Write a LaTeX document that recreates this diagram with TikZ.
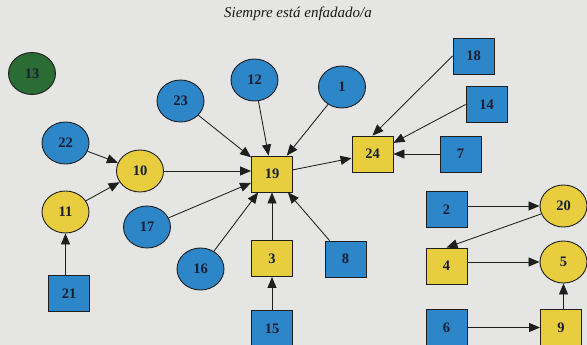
\documentclass[tikz,border=0pt]{standalone}
\usepackage{fontspec}
\setmainfont{Liberation Serif}
\usetikzlibrary{arrows.meta,shapes.geometric}
\definecolor{bg}{RGB}{229,229,227}
\definecolor{nblue}{RGB}{44,134,200}
\definecolor{nyellow}{RGB}{232,206,62}
\definecolor{ngreen}{RGB}{42,108,52}
\definecolor{edgec}{RGB}{30,30,30}
\definecolor{txtc}{RGB}{25,30,50}
\tikzset{
  base/.style={draw=edgec, line width=0.9pt, font=\fontsize{14.5}{14.5}\selectfont\bfseries, text=txtc, inner sep=0pt},
  ell/.style={base, ellipse, minimum width=47pt, minimum height=42pt},
  sq/.style={base, rectangle, minimum width=41pt, minimum height=36pt},
  bc/.style={ell, fill=nblue},
  yc/.style={ell, fill=nyellow},
  gc/.style={ell, fill=ngreen},
  bs/.style={sq, fill=nblue},
  ys/.style={sq, fill=nyellow},
  arr/.style={draw=edgec, line width=0.85pt, -{Triangle[length=11pt,width=9pt]}}
}
\begin{document}
\begin{tikzpicture}[x=1pt,y=-1pt]
\fill[bg] (0,0) rectangle (587,345);
\useasboundingbox (0,0) rectangle (587,345);
\clip (0,0) rectangle (587,345);
\node[font=\fontsize{15}{15}\selectfont\itshape, text=black!90] (title) at (298,14) {Siempre está enfadado/a};

\node[gc] (n13) at (32,73.5) {13};
\node[bc] (n23) at (180.5,101) {23};
\node[bc] (n12) at (254.5,80) {12};
\node[bc] (n1) at (342,87) {1};
\node[bs] (n18) at (473.5,56) {18};
\node[bs] (n14) at (486.5,104.5) {14};
\node[ys] (n24) at (372.5,154) {24};
\node[bs] (n7) at (460.5,154) {7};
\node[bc] (n22) at (65.5,143) {22};
\node[yc] (n10) at (140,171) {10};
\node[ys] (n19) at (272,174) {19};
\node[yc] (n11) at (65.5,212) {11};
\node[bc] (n17) at (147,227) {17};
\node[bc] (n16) at (200.5,269) {16};
\node[ys] (n3) at (272,258.5) {3};
\node[bs] (n8) at (345.5,259) {8};
\node[bs] (n21) at (69,293.5) {21};
\node[bs] (n15) at (272,328.5) {15};
\node[bs] (n2) at (446.5,209.5) {2};
\node[yc] (n20) at (563.5,206) {20};
\node[ys] (n4) at (446.5,266) {4};
\node[yc] (n5) at (563.5,262) {5};
\node[bs] (n6) at (446.5,327.5) {6};
\node[ys] (n9) at (561,327.5) {9};

\draw[arr] (n23) -- (n19);
\draw[arr] (n12) -- (n19);
\draw[arr] (n1) -- (n19);
\draw[arr] (n10.east |- 0,171) -- (n19.west |- 0,171);
\draw[arr] (n17) -- (n19);
\draw[arr] (n16) -- (n19);
\draw[arr] (n3) -- (n19);
\draw[arr] (n8) -- (n19);
\draw[arr] (n22) -- (n10);
\draw[arr] (n11) -- (n10);
\draw[arr] (n21.north -| n11.south) -- (n11.south);
\draw[arr] (n15) -- (n3);
\draw[arr] (n19) -- (n24);
\draw[arr] (n18.west) -- (n24.north);
\draw[arr] (n14.west) -- (n24.28);
\draw[arr] (n7) -- (n24);
\draw[arr] (n20 -| n2.east) -- (n20);
\draw[arr] (n20) -- (n4.north);
\draw[arr] (n5 -| n4.east) -- (n5);
\draw[arr] (n6) -- (n9);
\draw[arr] (n9.north -| n5.south) -- (n5.south);
\end{tikzpicture}
\end{document}
